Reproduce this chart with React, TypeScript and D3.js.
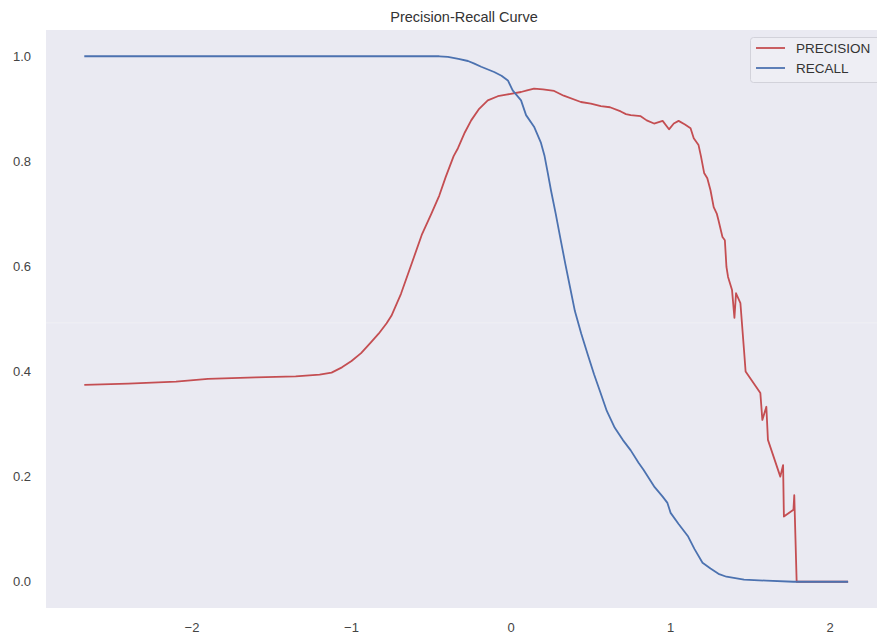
import React from "react";
import * as d3 from "d3";

const TITLE = "Precision-Recall Curve";
const SERIES_NAMES = ["PRECISION", "RECALL"];
const X_TICKS = [-2, -1, 0, 1, 2];
const Y_TICKS = [0.0, 0.2, 0.4, 0.6, 0.8, 1.0];
const FAINT_LINE = [0.4925];

// threshold values and precision
const precisionX = [
  -2.675, -2.4, -2.1, -1.9, -1.6, -1.35, -1.2, -1.125, -1.06, -1.0, -0.94, -0.88, -0.83, -0.78,
  -0.75, -0.69, -0.62, -0.56, -0.5, -0.45, -0.41, -0.36, -0.333, -0.29, -0.25, -0.2, -0.146,
  -0.083, -0.03, 0.0625, 0.1, 0.144, 0.2, 0.27, 0.33, 0.4375, 0.5, 0.5625, 0.62, 0.6875, 0.72,
  0.75, 0.8125, 0.85, 0.896, 0.95, 0.99, 1.02, 1.05, 1.09, 1.125, 1.145, 1.175, 1.19, 1.21,
  1.23, 1.25, 1.27, 1.29, 1.3, 1.325, 1.34, 1.35, 1.36, 1.385, 1.4, 1.41, 1.4375, 1.46, 1.47,
  1.5625, 1.575, 1.6, 1.61, 1.6875, 1.705, 1.71, 1.77, 1.775, 1.79, 2.1125,
];
const precisionY = [
  0.3745, 0.377, 0.381, 0.386, 0.389, 0.391, 0.394, 0.398, 0.408, 0.42, 0.435, 0.455, 0.472,
  0.492, 0.506, 0.548, 0.608, 0.66, 0.7, 0.735, 0.77, 0.81, 0.825, 0.855, 0.878, 0.9, 0.916,
  0.924, 0.927, 0.932, 0.935, 0.9385, 0.937, 0.934, 0.925, 0.913, 0.91, 0.905, 0.903, 0.895,
  0.89, 0.888, 0.886, 0.878, 0.872, 0.877, 0.861, 0.872, 0.877, 0.87, 0.863, 0.844, 0.831,
  0.81, 0.778, 0.768, 0.745, 0.713, 0.7, 0.688, 0.656, 0.65, 0.599, 0.58, 0.555, 0.502, 0.549,
  0.53, 0.441, 0.4, 0.359, 0.308, 0.333, 0.27, 0.2, 0.222, 0.124, 0.137, 0.165, 0.0, 0.0,
];

const recallX = [
  -2.675, -1.0, -0.45, -0.396, -0.33, -0.27, -0.23, -0.1875, -0.106, -0.06, -0.02, 0.01, 0.0625,
  0.094, 0.144, 0.1875, 0.21, 0.23, 0.25, 0.28, 0.31, 0.34, 0.37, 0.4, 0.44, 0.48, 0.52, 0.56,
  0.6, 0.65, 0.7, 0.75, 0.8, 0.83, 0.9, 0.95, 0.98, 1.0, 1.05, 1.11, 1.15, 1.2, 1.25, 1.3, 1.35,
  1.46, 1.6, 1.77, 2.1125,
];
const recallY = [
  1.0, 1.0, 1.0, 0.9987, 0.995, 0.991, 0.986, 0.98, 0.97, 0.963, 0.954, 0.935, 0.916, 0.888,
  0.866, 0.835, 0.81, 0.778, 0.745, 0.7, 0.652, 0.605, 0.56, 0.515, 0.472, 0.433, 0.395, 0.36,
  0.325, 0.293, 0.27, 0.25, 0.226, 0.213, 0.18, 0.162, 0.15, 0.131, 0.11, 0.086, 0.062, 0.036,
  0.025, 0.015, 0.0095, 0.004, 0.002, 0.0, 0.0,
];

const W = 877;
const H = 639;
const left = 46;
const top = 30;
const right = 886;
const bottom = 608;

const RED = "#C44E52";
const BLUE = "#4C72B0";
const FONT = "Liberation Sans, Arial, sans-serif";

export default function App() {
  const x = d3.scaleLinear().domain([-2.915, 2.35]).range([left, right]);
  const y = d3.scaleLinear().domain([-0.05, 1.05]).range([bottom, top]);
  const line = d3
    .line<[number, number]>()
    .x((d) => x(d[0]))
    .y((d) => y(d[1]));
  const pData = precisionX.map((v, i) => [v, precisionY[i]] as [number, number]);
  const rData = recallX.map((v, i) => [v, recallY[i]] as [number, number]);

  return (
    <svg
      width={W}
      height={H}
      style={{ position: "absolute", left: 0, top: 0, background: "#fff" }}
      fontFamily={FONT}
    >
      <rect x={left} y={top} width={right - left} height={bottom - top} fill="#EAEAF2" />
      {FAINT_LINE.map((v) => (
        <line key={v} x1={left} x2={right} y1={y(v)} y2={y(v)} stroke="#F0F0F5" strokeWidth={1} />
      ))}
      <text x={(left + right) / 2 - 2} y={22} textAnchor="middle" fontSize={14.5} fill="#333">
        {TITLE}
      </text>
      {Y_TICKS.map((t) => (
        <text key={t} x={31} y={y(t)} dy="0.36em" textAnchor="end" fontSize={13} fill="#444">
          {t.toFixed(1)}
        </text>
      ))}
      {X_TICKS.map((t) => (
        <text key={t} x={x(t)} y={632} textAnchor="middle" fontSize={13} fill="#444">
          {t < 0 ? "\u2212" + Math.abs(t) : String(t)}
        </text>
      ))}
      <path d={line(pData) || ""} fill="none" stroke={RED} strokeWidth={1.8} strokeLinejoin="round" />
      <path d={line(rData) || ""} fill="none" stroke={BLUE} strokeWidth={1.8} strokeLinejoin="round" />
      <g>
        <rect x={750.5} y={37.5} width={140} height={45} rx={3} fill="#EEEEF4" stroke="#D2D2DA" />
        <line x1={756} x2={785} y1={48} y2={48} stroke={RED} strokeWidth={1.8} />
        <line x1={756} x2={785} y1={68} y2={68} stroke={BLUE} strokeWidth={1.8} />
        <text x={796} y={48} dy="0.36em" fontSize={13.5} fill="#333">
          {SERIES_NAMES[0]}
        </text>
        <text x={796} y={68} dy="0.36em" fontSize={13.5} fill="#333">
          {SERIES_NAMES[1]}
        </text>
      </g>
    </svg>
  );
}
